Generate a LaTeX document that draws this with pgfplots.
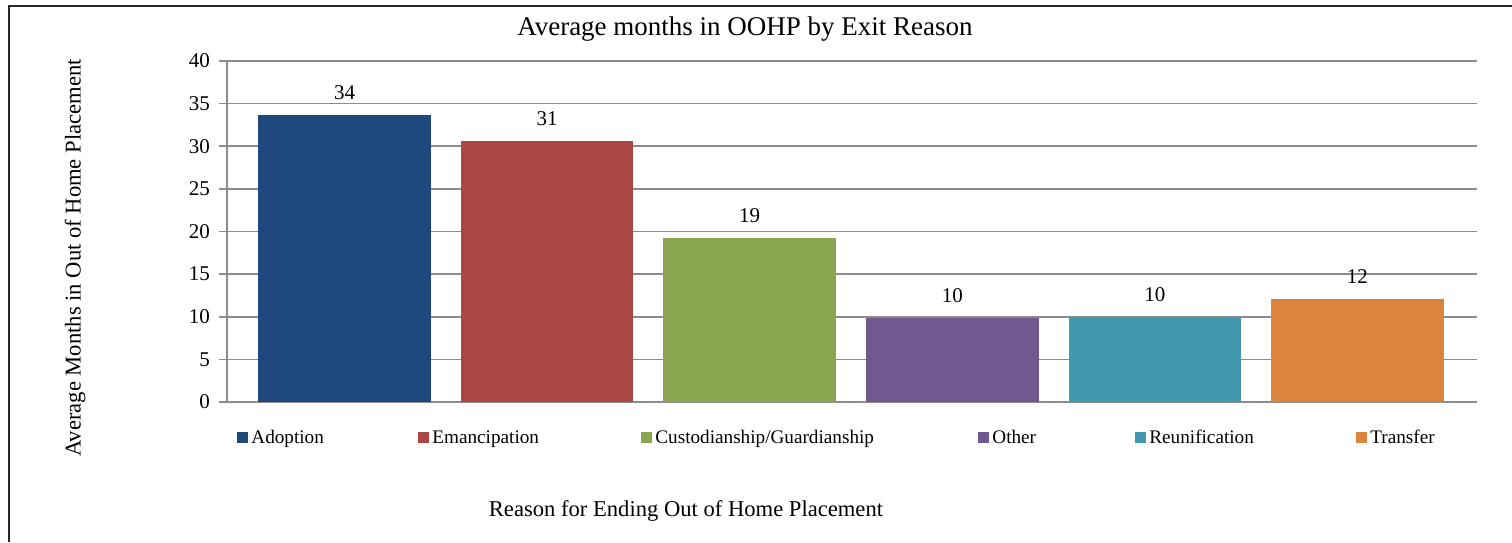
\documentclass[border=0pt]{standalone}
\usepackage{pgfplots}
\pgfplotsset{compat=1.18}
\usepackage{fontspec}
\setmainfont{Liberation Serif}
\definecolor{cA}{HTML}{1F497D}
\definecolor{cB}{HTML}{AA4643}
\definecolor{cC}{HTML}{89A54E}
\definecolor{cD}{HTML}{71588F}
\definecolor{cE}{HTML}{4198AF}
\definecolor{cF}{HTML}{DB843D}
\definecolor{gridc}{HTML}{8C8C8C}
\begin{document}
\begin{tikzpicture}[x=0.5pt,y=0.5pt]
\useasboundingbox (0,0) rectangle (1512,542);
\draw[line width=1pt,black!85] (9,0) -- (9,536) -- (1512,536);
\begin{axis}[
  at={(113.5pt,70pt)}, anchor=south west,
  scale only axis, width=625pt, height=170.5pt,
  ybar, bar width=0.852, bar shift=0pt,
  xmin=-0.58, xmax=5.59, ymin=0, ymax=40,
  ytick={0,5,...,40}, xtick=\empty,
  ymajorgrids, grid style={gridc, line width=0.8pt},
  axis line style={gridc, line width=0.8pt},
  axis x line*=bottom, axis y line*=left,
  x axis line style={-}, y axis line style={-},
  ytick style={gridc, line width=0.8pt},
  major tick length=4pt, tick align=outside,
  yticklabel style={font=\fontsize{10.5}{12}\selectfont, xshift=-1pt},
  /pgf/number format/assume math mode=true,
  nodes near coords,
  nodes near coords style={font=\fontsize{10.5}{12}\selectfont, black, /pgf/number format/fixed, /pgf/number format/precision=0, yshift=4pt},
  legend columns=6,
  legend style={at={(0.008,-0.103)}, anchor=west, draw=none, fill=none, inner sep=0pt,
    font=\fontsize{9.6}{11}\selectfont,
    nodes={inner sep=0.5pt},
    /tikz/every even column/.append style={column sep=0pt}},
  legend image code/.code={\fill[#1] (0pt,-2.75pt) rectangle (5.5pt,2.75pt);},
]
\addplot[fill=cA, draw=none] coordinates {(0,33.67)};
\addlegendentry{\makebox[84pt][l]{\strut\hspace{1pt}Adoption}}
\addplot[fill=cB, draw=none] coordinates {(1,30.6)};
\addlegendentry{\makebox[105pt][l]{\strut\hspace{1pt}Emancipation}}
\addplot[fill=cC, draw=none] coordinates {(2,19.24)};
\addlegendentry{\makebox[162pt][l]{\strut\hspace{1pt}Custodianship/Guardianship}}
\addplot[fill=cD, draw=none] coordinates {(3,9.85)};
\addlegendentry{\makebox[72pt][l]{\strut\hspace{1pt}Other}}
\addplot[fill=cE, draw=none] coordinates {(4,10.0)};
\addlegendentry{\makebox[104pt][l]{\strut\hspace{1pt}Reunification}}
\addplot[fill=cF, draw=none] coordinates {(5,12.08)};
\addlegendentry{\strut\hspace{1pt}Transfer}
\end{axis}
\node[font=\fontsize{13.5}{15}\selectfont] at (745,513) {Average months in OOHP by Exit Reason};
\node[font=\fontsize{11.3}{13}\selectfont, rotate=90] at (75,284) {Average Months in Out of Home Placement};
\node[font=\fontsize{11.3}{13}\selectfont] at (686,31) {Reason for Ending Out of Home Placement};
\end{tikzpicture}
\end{document}
